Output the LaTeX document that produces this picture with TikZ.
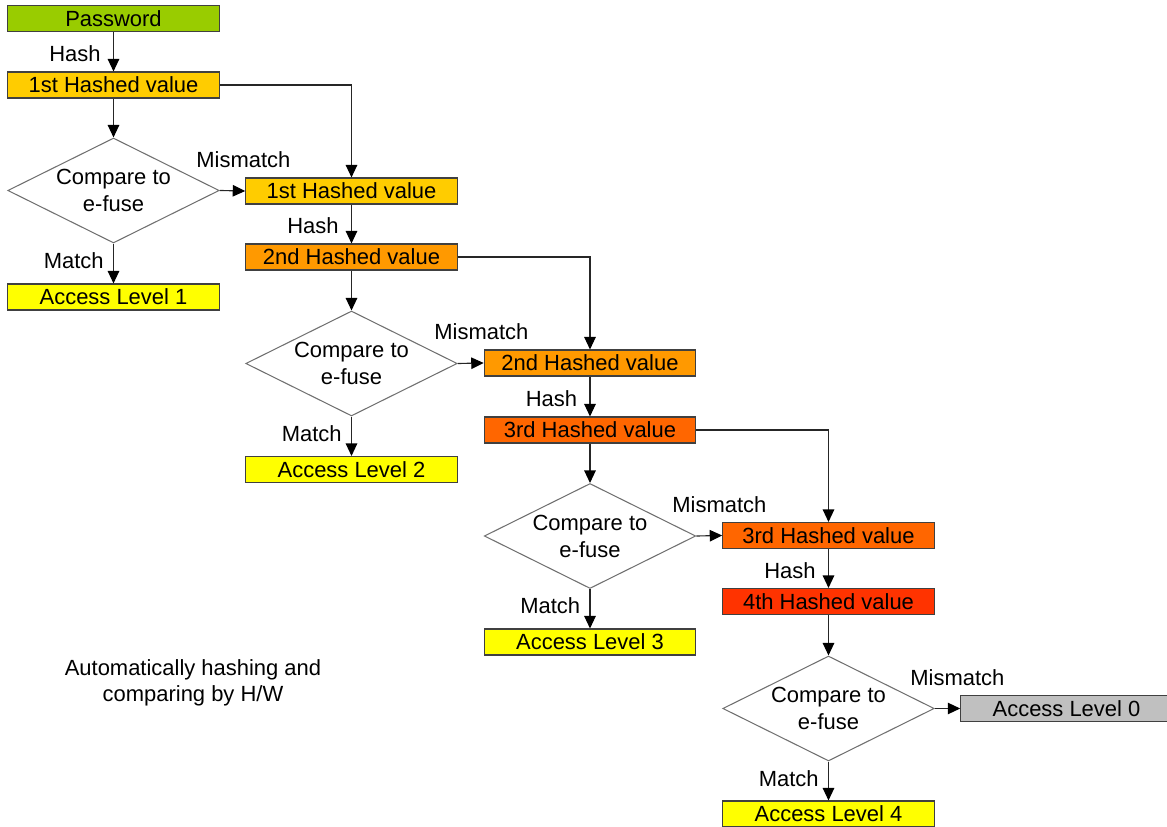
\documentclass[tikz,border=0pt]{standalone}
\usepackage{fontspec}
\setmainfont{Liberation Sans}
\usetikzlibrary{shapes.geometric,arrows.meta}
\definecolor{pwgreen}{HTML}{99CC00}
\definecolor{hashA}{HTML}{FFCC00}
\definecolor{hashB}{HTML}{FF9900}
\definecolor{hashC}{HTML}{FF6600}
\definecolor{hashD}{HTML}{FF3300}
\definecolor{accyellow}{HTML}{FFFF00}
\definecolor{accgray}{HTML}{C0C0C0}
\definecolor{edgegray}{HTML}{404040}
\definecolor{diagray}{HTML}{707070}
\begin{document}
\begin{tikzpicture}[x=0.02cm,y=-0.02cm,
  font=\fontsize{12.5}{15}\selectfont,
  box/.style={draw=edgegray,line width=0.6pt,rectangle,inner sep=0pt,
    minimum width=4.23cm,minimum height=0.52cm},
  dia/.style={draw=diagray,line width=0.6pt,diamond,aspect=2,inner sep=0pt,
    minimum width=4.23cm,minimum height=2.1cm,align=center,
    font=\fontsize{12.5}{15.4}\selectfont},
  arr/.style={draw=black!85,line width=0.65pt,
    -{Triangle[length=0.25cm,width=0.23cm,color=black,fill=black]}},
  lbl/.style={inner sep=0pt},
  hashlbl/.style={lbl,left=7pt,yshift=-1pt},
  matchlbl/.style={lbl,left=5.3pt,yshift=1.5pt},
]
\useasboundingbox (0,0) rectangle (1167,827);
\clip (0,0) rectangle (1167,827);

% column 1
\node[box,fill=pwgreen] (pw) at (113.5,18.5) {Password};
\node[box,fill=hashA] (h1a) at (113.5,85) {1st Hashed value};
\node[dia] (d1) at (113.5,190.5) {Compare to\\e-fuse};
\node[box,fill=accyellow] (a1) at (113.5,297) {Access Level 1};

% column 2
\node[box,fill=hashA] (h1b) at (351.5,191) {1st Hashed value};
\node[box,fill=hashB] (h2a) at (351.5,257) {2nd Hashed value};
\node[dia] (d2) at (351.5,363.5) {Compare to\\e-fuse};
\node[box,fill=accyellow] (a2) at (351.5,469.5) {Access Level 2};

% column 3
\node[box,fill=hashB] (h2b) at (590,363) {2nd Hashed value};
\node[box,fill=hashC] (h3a) at (590,430) {3rd Hashed value};
\node[dia] (d3) at (590,536) {Compare to\\e-fuse};
\node[box,fill=accyellow] (a3) at (590,642) {Access Level 3};

% column 4
\node[box,fill=hashC] (h3b) at (828.5,535.5) {3rd Hashed value};
\node[box,fill=hashD] (h4) at (828.5,601.5) {4th Hashed value};
\node[dia] (d4) at (828.5,708.5) {Compare to\\e-fuse};
\node[box,fill=accyellow] (a4) at (828.5,814) {Access Level 4};
\node[box,fill=accgray] (a0) at (1066.5,708.5) {Access Level 0};

% connectors
\draw[arr] (pw) -- node[hashlbl] {Hash} (h1a);
\draw[arr] (h1a) -- (d1);
\draw[arr] (d1) -- node[matchlbl] {Match} (a1);
\draw[arr] (d1.east) -- (h1b.west);
\draw[arr] (h1a.east) -| (h1b.north);

\draw[arr] (h1b) -- node[hashlbl] {Hash} (h2a);
\draw[arr] (h2a) -- (d2);
\draw[arr] (d2) -- node[matchlbl] {Match} (a2);
\draw[arr] (d2.east) -- (h2b.west);
\draw[arr] (h2a.east) -| (h2b.north);

\draw[arr] (h2b) -- node[hashlbl] {Hash} (h3a);
\draw[arr] (h3a) -- (d3);
\draw[arr] (d3) -- node[matchlbl] {Match} (a3);
\draw[arr] (d3.east) -- (h3b.west);
\draw[arr] (h3a.east) -| (h3b.north);

\draw[arr] (h3b) -- node[hashlbl] {Hash} (h4);
\draw[arr] (h4) -- (d4);
\draw[arr] (d4) -- node[matchlbl] {Match} (a4);
\draw[arr] (d4.east) -- (a0.west);

% mismatch labels
\node[lbl,anchor=west] (m1) at (196,160) {Mismatch};
\node[lbl,anchor=west] (m2) at (434,332) {Mismatch};
\node[lbl,anchor=west] (m3) at (672,505) {Mismatch};
\node[lbl,anchor=west] (m4) at (910,678) {Mismatch};

% note
\node[align=center,font=\fontsize{12.5}{14.8}\selectfont] (note) at (193,683)
  {Automatically hashing and\\comparing by H/W};
\end{tikzpicture}
\end{document}
